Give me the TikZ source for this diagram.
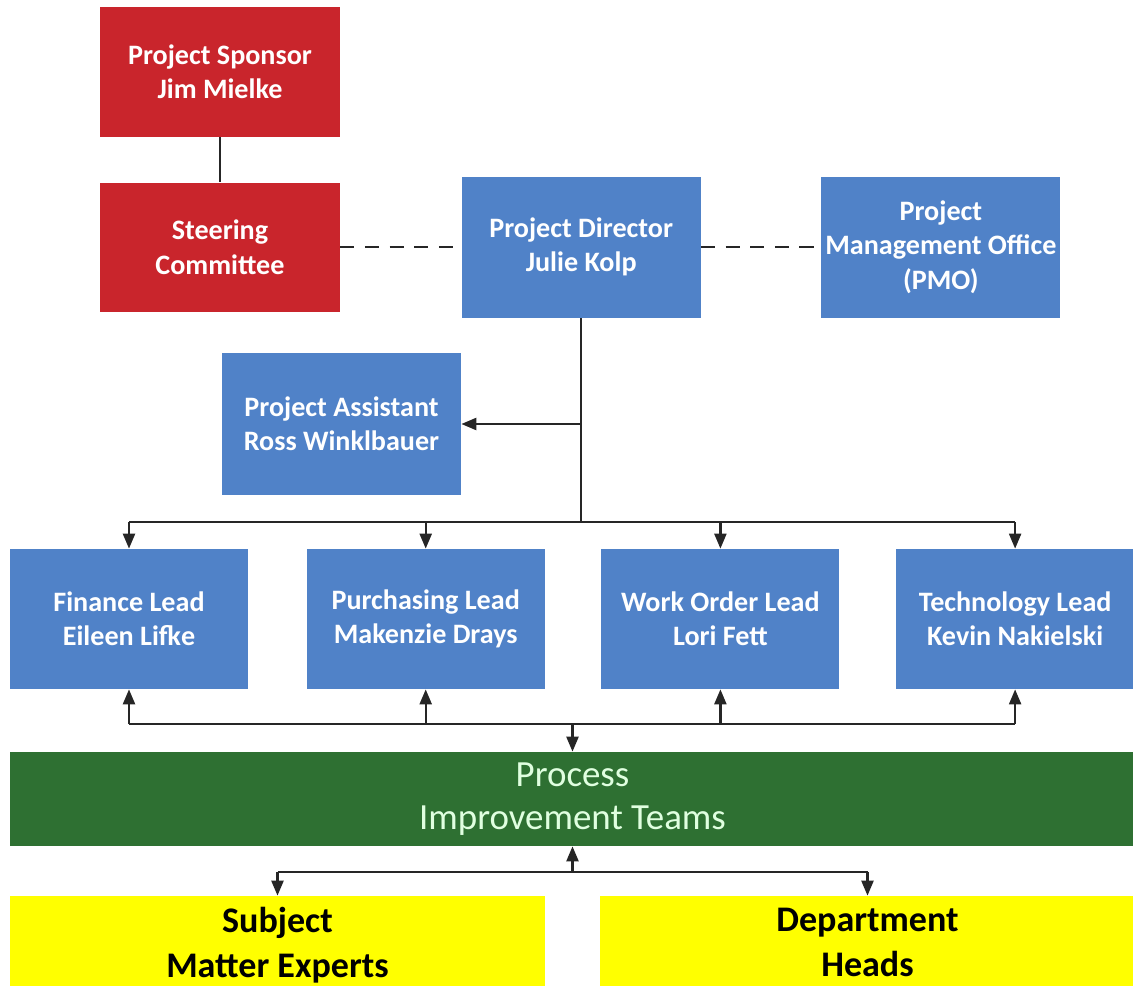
\documentclass[tikz,border=0pt]{standalone}
\usepackage{fontspec}
\setmainfont{Carlito}
\usetikzlibrary{arrows.meta,positioning}
\definecolor{sponsorred}{HTML}{C9252C}
\definecolor{teamblue}{HTML}{5082C8}
\definecolor{pitgreen}{HTML}{2E7032}
\definecolor{smeyellow}{HTML}{FFFF00}

\begin{document}
\begin{tikzpicture}[
    node distance=0.9cm and 2.42cm,
    redbox/.style={rectangle, fill=sponsorred, text=white, minimum width=4.8cm, minimum height=2.6cm, inner sep=0pt, font=\fontsize{16}{19.5}\selectfont\bfseries, align=center},
    bluebox/.style={rectangle, fill=teamblue, text=white, minimum width=4.78cm, minimum height=2.82cm, inner sep=0pt, font=\fontsize{16}{19.5}\selectfont\bfseries, align=center},
    teambox/.style={rectangle, fill=pitgreen, text=white!88!green, minimum width=22.5cm, minimum height=1.88cm, inner sep=0pt, font=\fontsize{21}{24.5}\selectfont, align=center},
    groupbox/.style={rectangle, fill=smeyellow, text=black, minimum width=10.7cm, minimum height=1.84cm, inner sep=0pt, text depth=0pt, font=\fontsize{20.5}{25.5}\selectfont\bfseries, align=center},
    link/.style={draw=black!85, line width=1.3pt},
    dashlink/.style={link, dash pattern=on 8pt off 6pt},
    arrow/.style={link, -{Triangle[length=0.3cm, width=0.24cm]}}
]
\useasboundingbox (0,0) rectangle (22.66,-19.72);

% Sponsor and committee
\node[redbox] (sponsor) at (4.4,-1.44) {Project Sponsor\\Jim Mielke};
\node[redbox, minimum height=2.58cm, below=of sponsor] (steering) {Steering\\Committee};

% Director and PMO
\node[bluebox, right=of steering] (director) {Project Director\\Julie Kolp};
\node[bluebox, right=2.4cm of director] (pmo) {Project\\Management Office\\(PMO)};

% Assistant
\node[bluebox, minimum height=2.84cm] (assistant) at (6.83,-8.48) {Project Assistant\\Ross Winklbauer};

% Leads
\node[bluebox, minimum width=4.76cm, minimum height=2.8cm] (finance) at (2.58,-12.38) {Finance Lead\\Eileen Lifke};
\node[bluebox, minimum width=4.76cm, minimum height=2.8cm, right=1.16cm of finance] (purchasing) {Purchasing Lead\\Makenzie Drays};
\node[bluebox, minimum width=4.76cm, minimum height=2.8cm, right=1.12cm of purchasing] (workorder) {Work Order Lead\\Lori Fett};
\node[bluebox, minimum width=4.76cm, minimum height=2.8cm, right=1.12cm of workorder] (tech) {Technology Lead\\Kevin Nakielski};

% Teams
\node[teambox] (teams) at (11.45,-15.98) {Process\\Improvement Teams};
\node[groupbox] (sme) at (5.55,-18.84) {Subject\\Matter Experts};
\node[groupbox] (heads) at (17.35,-18.84) {Department\\Heads};

% Connectors
\draw[link] (sponsor) -- (steering);
\draw[dashlink] (steering) -- (director);
\draw[dashlink] (director) -- (pmo);

\coordinate (topbus) at (11.6,-10.44);
\coordinate (midbus) at (11.45,-14.48);
\coordinate (lowbus) at (11.45,-17.44);

\draw[link] (director.south) -- (director.south |- topbus);
\draw[arrow] (director.south |- assistant.east) -- (assistant.east);
\draw[link] (finance.north |- topbus) -- (tech.north |- topbus);
\draw[link] (finance.south |- midbus) -- (tech.south |- midbus);
\foreach \lead in {finance,purchasing,workorder,tech} {
    \draw[arrow] (\lead.north |- topbus) -- (\lead.north);
    \draw[arrow] (\lead.south |- midbus) -- (\lead.south);
}
\draw[arrow] (teams.north |- midbus) -- (teams.north);
\draw[arrow] (teams.south |- lowbus) -- (teams.south);
\draw[link] (sme.north |- lowbus) -- (heads.north |- lowbus);
\draw[arrow] (sme.north |- lowbus) -- (sme.north);
\draw[arrow] (heads.north |- lowbus) -- (heads.north);

\end{tikzpicture}
\end{document}
